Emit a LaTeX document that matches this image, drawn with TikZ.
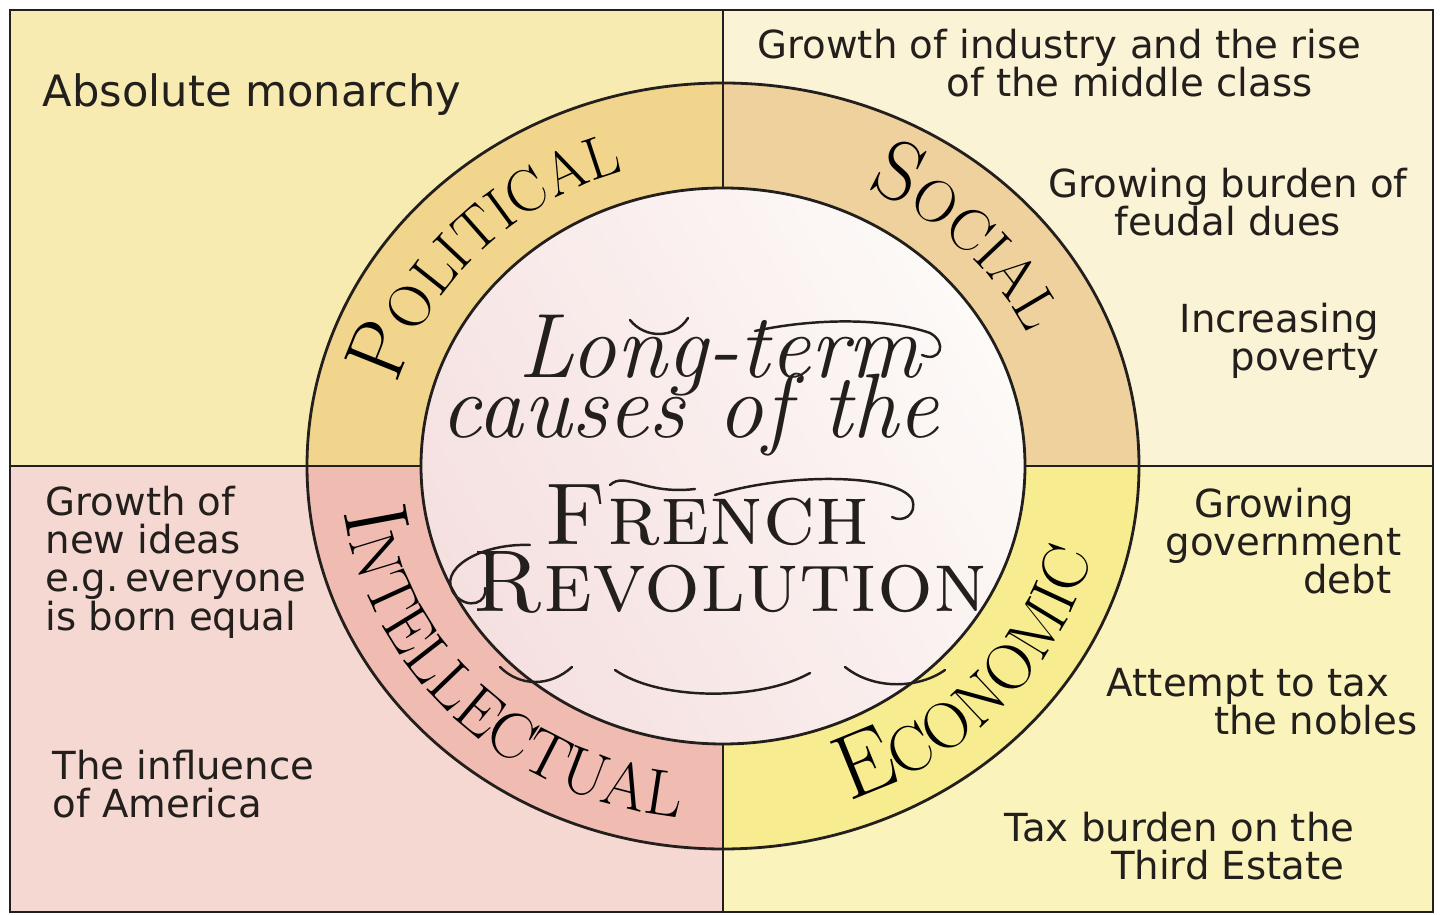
\documentclass[tikz,border=0pt]{standalone}
\usepackage{fontspec}
\newfontfamily\handfont{DejaVu Sans}
\usetikzlibrary{decorations.text, positioning}

\definecolor{inkcol}{HTML}{231F1C}
\definecolor{tlbg}{HTML}{F8EBB2}
\definecolor{polring}{HTML}{F2D58C}
\definecolor{trbg}{HTML}{FBF3D6}
\definecolor{socring}{HTML}{EFD19E}
\definecolor{blbg}{HTML}{F6D8D2}
\definecolor{intring}{HTML}{F0BCB2}
\definecolor{brbg}{HTML}{FAF3BC}
\definecolor{ecoring}{HTML}{F8EC90}
\definecolor{innerpink}{HTML}{F5E0E0}
\definecolor{innerwhite}{HTML}{FDFAF8}

\newcommand\capbig{\fontsize{24}{24}\selectfont}
\newcommand\capsmall{\fontsize{17}{17}\selectfont}
\newcommand\capbigger{\fontsize{26}{26}\selectfont}
\newcommand\capsmaller{\fontsize{18.5}{18.5}\selectfont}

\tikzset{
  item/.style={font=\handfont\fontsize{11}{10.9}\selectfont, inner sep=0pt, text=inkcol},
  ink/.style={draw=inkcol, line width=0.8pt},
  ringtext/.style={decorate, decoration={text along path, text align=center}},
  swash/.style={draw=inkcol, line width=0.7pt, line cap=round}
}

\begin{document}
\begin{tikzpicture}
\useasboundingbox (0,0) rectangle (14.43,9.15);
% corners and centre
\coordinate (c) at (7.23,4.49);
\coordinate (nw) at (0.10,9.05);
\coordinate (se) at (14.33,0.03);
\coordinate (top) at (7.23,9.05);
\coordinate (bot) at (7.23,0.03);
\coordinate (lft) at (0.10,4.49);
\coordinate (rgt) at (14.33,4.49);

% quadrants
\fill[tlbg] (c) rectangle (nw);
\fill[trbg] (c) rectangle (14.33,9.05);
\fill[blbg] (c) rectangle (0.10,0.03);
\fill[brbg] (c) rectangle (se);

% ring segments
\foreach \col/\sx/\sy in {polring/-1/1, socring/1/1, intring/-1/-1, ecoring/1/-1} {
  \begin{scope}
    \clip (c) rectangle ++(\sx*5,\sy*5);
    \fill[\col] (c) ellipse [x radius=4.16, y radius=3.83];
  \end{scope}
}

% dividers
\draw[ink] (top) -- (bot);
\draw[ink] (lft) -- (rgt);

% centre disc
\shade[left color=innerpink, right color=innerwhite, shading angle=120]
  (c) ellipse [x radius=3.02, y radius=2.78];
\draw[ink] (c) ellipse [x radius=3.02, y radius=2.78];
\draw[ink] (c) ellipse [x radius=4.16, y radius=3.83];
\draw[ink] (nw) rectangle (se);

% ring labels
\path[ringtext, decoration={text={|\capbig|P|\capsmall|OLITICAL}}]
  (c) ++(180:3.37 and 3.08) arc [start angle=180, end angle=93, x radius=3.37, y radius=3.08];
\path[ringtext, decoration={text={|\capbig|S|\capsmall|OCIAL}}]
  (c) ++(88:3.37 and 3.08) arc [start angle=88, end angle=0, x radius=3.37, y radius=3.08];
\path[ringtext, decoration={text={|\capbigger|I|\capsmaller|NTELLECTUAL}}]
  (c) ++(176:3.82 and 3.54) arc [start angle=176, end angle=274, x radius=3.82, y radius=3.54];
\path[ringtext, decoration={text={|\capbigger|E|\capsmaller|CONOMIC}}]
  (c) ++(272:3.82 and 3.54) arc [start angle=272, end angle=364, x radius=3.82, y radius=3.54];

% title
\node[anchor=base, font=\fontsize{26}{26}\selectfont\itshape, text=inkcol] (longterm) at (7.20,5.37) {Long-term};
\node[anchor=base, font=\fontsize{26}{26}\selectfont\itshape, text=inkcol] (causes) at (6.90,4.77) {causes of the};
\node[anchor=base, font=\fontsize{25}{25}\selectfont\scshape, text=inkcol] (french) at (7.07,3.70) {French};
\node[anchor=base, font=\fontsize{25}{25}\selectfont\scshape, text=inkcol] (revol) at (7.30,3.03) {Revolution};

% flourishes
\draw[swash] (6.30,5.95) .. controls (6.45,5.76) and (6.75,5.76) .. (6.88,5.97);
\draw[swash] (7.55,5.84) .. controls (8.20,5.98) and (8.90,5.96) .. (9.30,5.82)
  .. controls (9.48,5.72) and (9.40,5.52) .. (9.22,5.60);
\draw[swash] (6.10,4.30) .. controls (6.25,4.44) and (6.45,4.20) .. (6.95,4.26);
\draw[swash] (7.15,4.20) .. controls (7.85,4.42) and (8.95,4.42) .. (9.12,4.16)
  .. controls (9.18,4.00) and (9.02,3.92) .. (8.92,3.98);
\draw[swash] (5.30,3.70) .. controls (4.80,3.72) and (4.35,3.45) .. (4.55,3.20)
  .. controls (4.68,3.05) and (4.88,3.12) .. (4.85,3.27);
\draw[swash] (5.00,2.48) .. controls (5.20,2.28) and (5.50,2.28) .. (5.72,2.48);
\draw[swash] (6.15,2.45) .. controls (6.60,2.14) and (7.60,2.14) .. (8.10,2.42);
\draw[swash] (8.45,2.48) .. controls (8.75,2.24) and (9.20,2.27) .. (9.45,2.45);

% causes
\node[item, font=\handfont\fontsize{12.3}{14}\selectfont, anchor=west] (absmon) at (0.42,8.20) {Absolute monarchy};
\node[item, anchor=east, align=right] (industry) at (13.62,8.52) {Growth of industry and the rise\\of the middle class\hspace*{0.49cm}};
\node[item, align=center] (feudal) at (12.28,7.13) {Growing burden of\\feudal dues};
\node[item, anchor=east, align=right] (poverty) at (13.80,5.74) {Increasing\\poverty};
\node[item, anchor=west, align=left] (ideas) at (0.45,3.53) {Growth of\\new ideas\\e.g.\,everyone\\is born equal};
\node[item, anchor=west, align=left] (america) at (0.52,1.31) {The influence\\of America};
\node[item, anchor=east, align=right] (debt) at (14.02,3.74) {Growing\hspace*{0.47cm}\\government\\debt\hspace*{0.10cm}};
\node[item, anchor=east, align=right] (nobles) at (14.18,2.135) {Attempt to tax\hspace*{0.28cm}\\the nobles};
\node[item, anchor=east, align=right] (estate) at (13.55,0.69) {Tax burden on the\\Third Estate\hspace*{0.10cm}};
\end{tikzpicture}
\end{document}
